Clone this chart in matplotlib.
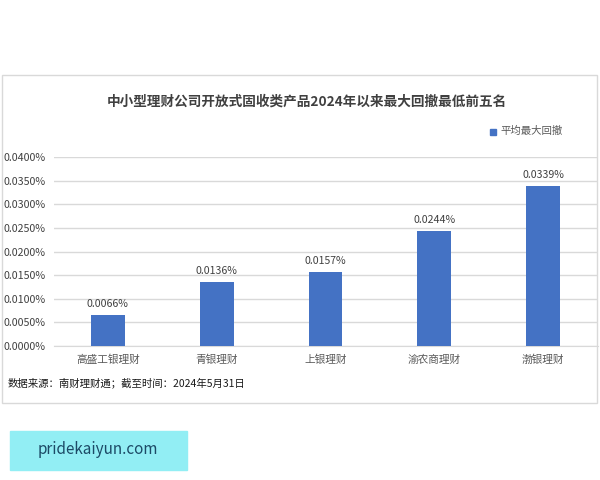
import matplotlib
matplotlib.use("Agg")
import matplotlib.pyplot as plt
from matplotlib.patches import Rectangle
from matplotlib.ticker import FuncFormatter, MultipleLocator

plt.rcParams['font.family'] = ['Noto Sans CJK SC', 'DejaVu Sans']

categories = ["高盛工银理财", "青银理财", "上银理财", "渝农商理财", "渤银理财"]
values = [0.0066, 0.0136, 0.0157, 0.0244, 0.0339]
series_name = "平均最大回撤"
title = "中小型理财公司开放式固收类产品2024年以来最大回撤最低前五名"
source = "数据来源：南财理财通；截至时间：2024年5月31日"
watermark = "pridekaiyun.com"

W, H = 600, 480
fig = plt.figure(figsize=(W / 100, H / 100), dpi=100)
fig.patch.set_facecolor("white")

def fx(x):
    return x / W

def fy(y):
    return 1 - y / H

# chart border
fig.add_artist(Rectangle((fx(1.5), fy(403)), fx(597) - fx(1.5), fy(75) - fy(403),
                         transform=fig.transFigure, fill=False,
                         edgecolor="#d9d9d9", linewidth=1.0))

ax_l, ax_r, ax_t, ax_b = 53.5, 597.5, 157, 346
ax = fig.add_axes([fx(ax_l), fy(ax_b), fx(ax_r - ax_l), (ax_b - ax_t) / H])
x = list(range(len(categories)))
bars = ax.bar(x, values, width=0.31, color="#4472C4", zorder=3)
ax.set_xlim(-0.5, len(categories) - 0.5)
ax.set_ylim(0, 0.04)
ax.yaxis.set_major_locator(MultipleLocator(0.005))
ax.yaxis.set_major_formatter(FuncFormatter(lambda v, p: f"{v:.4f}%"))
ax.grid(axis="y", color="#d9d9d9", linewidth=1.0, zorder=0)
for s in ax.spines.values():
    s.set_visible(False)
ax.spines["bottom"].set_visible(True)
ax.spines["bottom"].set_color("#d9d9d9")
ax.tick_params(axis="both", length=0, colors="#595959", labelsize=7.7)
ax.tick_params(axis="y", pad=6)
ax.tick_params(axis="x", pad=6)
ax.set_xticks(x)
ax.set_xticklabels(categories)
for lab in ax.get_yticklabels():
    lab.set_color("#404040")

for xi, v in zip(x, values):
    ax.annotate(f"{v:.4f}%", (xi, v), xytext=(0, 4), textcoords="offset points",
                ha="center", va="bottom", fontsize=7.6, color="#404040")

fig.text(fx(307), fy(102), title, ha="center", va="center", fontsize=9.8,
         fontweight="bold", color="#404040")

# legend
fig.add_artist(Rectangle((fx(490), fy(134.5)), fx(6), 6 / H, transform=fig.transFigure,
                         color="#4472C4"))
fig.text(fx(500), fy(131), series_name, ha="left", va="center", fontsize=7.5,
         color="#595959")

fig.text(fx(8), fy(383), source, ha="left", va="center", fontsize=7.5, color="#1a1a1a")

# watermark box
fig.add_artist(Rectangle((fx(10), fy(470)), fx(177), 39 / H, transform=fig.transFigure,
                         color="#92eef4"))
fig.text(fx(97.5), fy(450), watermark, ha="center", va="center", fontsize=11,
         color="#1c4a66")

fig.savefig("out.png", dpi=100)
